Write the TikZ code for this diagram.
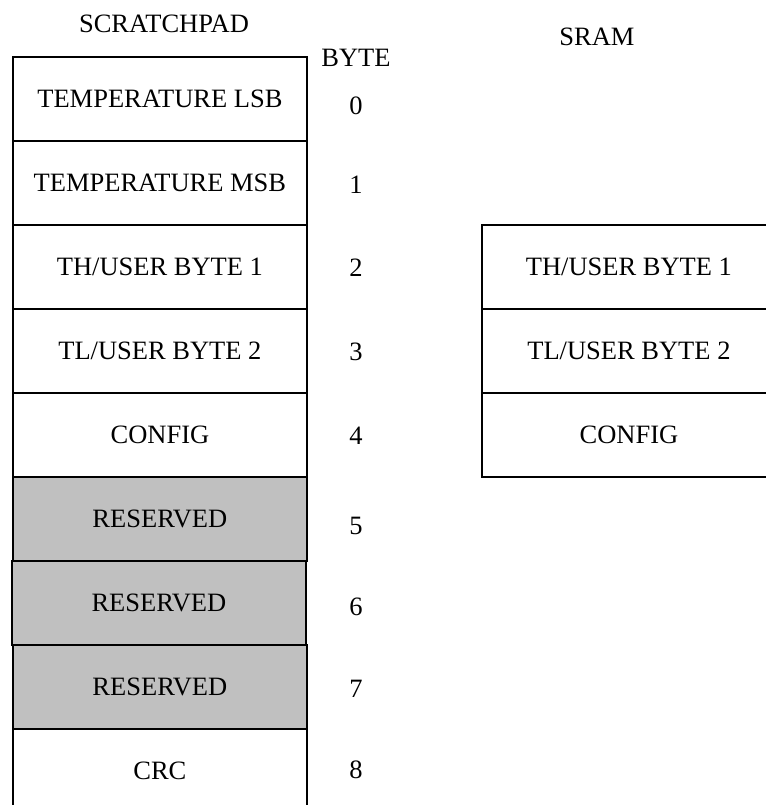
\documentclass[tikz,border=0pt]{standalone}
\usepackage{fontspec}
\setmainfont{Liberation Serif}
\definecolor{resgray}{RGB}{192,192,192}
\begin{document}
\begin{tikzpicture}[x=1pt,y=-1pt,
  txt/.style={font=\fontsize{26.5}{30}\selectfont, inner sep=0pt},
  cell/.style={txt, draw=black, line width=1.8pt, minimum width=294pt, minimum height=84pt, anchor=north west, text depth=-1pt},
  res/.style={cell, fill=resgray}]
\useasboundingbox (0,0) rectangle (765,805);
% titles
\node[txt] (tsp) at (164,24) {SCRATCHPAD};
\node[txt] (tbyte) at (356,58) {BYTE};
\node[txt] (tsram) at (597,37) {SRAM};
% scratchpad
\node[cell] (s0) at (12,56) {TEMPERATURE LSB};
\node[cell] (s1) at (12,140) {TEMPERATURE MSB};
\node[cell] (s2) at (12,224) {TH/USER BYTE 1};
\node[cell] (s3) at (12,308) {TL/USER BYTE 2};
\node[cell] (s4) at (12,392) {CONFIG};
\node[res] (s5) at (12,476) {RESERVED};
\node[res] (s6) at (11,560) {RESERVED};
\node[res] (s7) at (12,644) {RESERVED};
\node[cell] (s8) at (12,728) {CRC};
% byte numbers
\node[txt] (n0) at (356,106) {0};
\node[txt] (n1) at (356,185) {1};
\node[txt] (n2) at (356,268) {2};
\node[txt] (n3) at (356,352) {3};
\node[txt] (n4) at (356,436) {4};
\node[txt] (n5) at (356,526) {5};
\node[txt] (n6) at (356,607) {6};
\node[txt] (n7) at (356,689) {7};
\node[txt] (n8) at (356,770) {8};
% sram
\node[cell] (r2) at (481,224) {TH/USER BYTE 1};
\node[cell] (r3) at (481,308) {TL/USER BYTE 2};
\node[cell] (r4) at (481,392) {CONFIG};
\end{tikzpicture}
\end{document}
